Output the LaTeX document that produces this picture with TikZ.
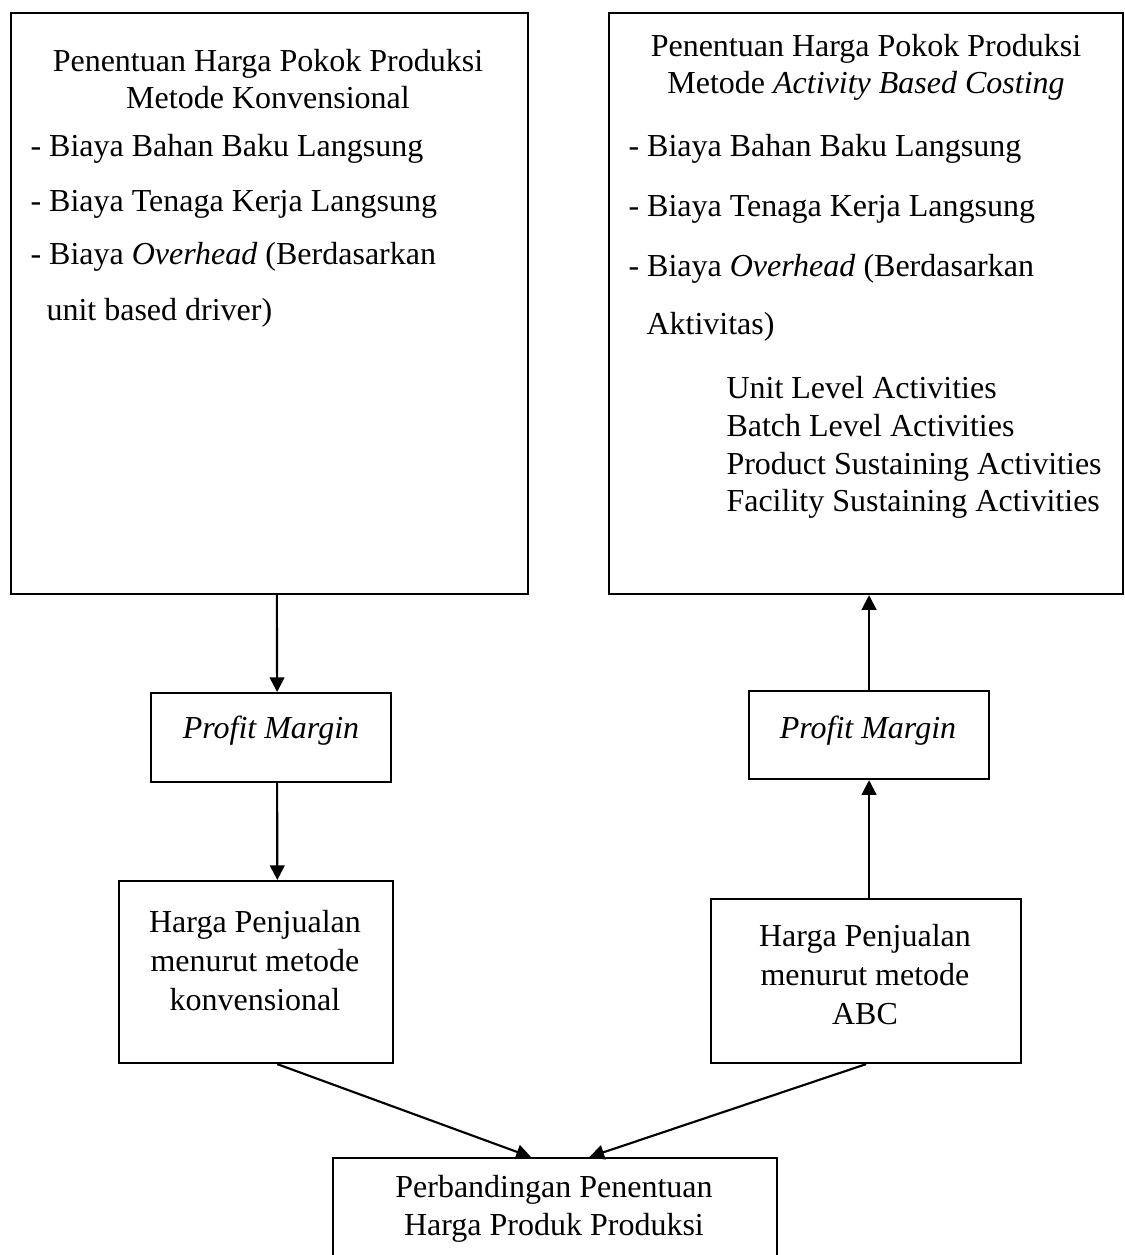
\documentclass[tikz,border=0pt]{standalone}
\usepackage{fontspec}
\setmainfont{Liberation Serif}
\usetikzlibrary{arrows.meta,calc}
\begin{document}
\begin{tikzpicture}[x=0.375pt,y=-0.375pt,
  box/.style={draw,line width=0.8pt,inner sep=0pt,anchor=north west},
  txt/.style={font=\fontsize{12pt}{14pt}\selectfont,inner sep=0pt,anchor=base},
  lst/.style={txt,anchor=base west},
  flow/.style={line width=0.8pt,-{Triangle[length=5.5pt,width=5.5pt]}}]
\useasboundingbox (0,0) rectangle (1124,1255);

% boxes
\node[box,minimum width=193.875pt,minimum height=217.875pt] (L1) at (10,12) {};
\node[box,minimum width=192.75pt,minimum height=217.875pt] (R1) at (608,12) {};
\node[box,minimum width=90pt,minimum height=33.375pt] (pmL) at (150,692) {};
\node[box,minimum width=90pt,minimum height=33pt] (pmR) at (748,690) {};
\node[box,minimum width=102.75pt,minimum height=68.25pt] (hL) at (118,880) {};
\node[box,minimum width=116.25pt,minimum height=61.5pt] (hR) at (710,898) {};
\node[box,minimum width=166.5pt,minimum height=37.875pt] (bot) at (332,1157) {};

% conventional costing box
\node[txt] (l1t1) at (268,71) {Penentuan Harga Pokok Produksi};
\node[txt] (l1t2) at (268,108) {Metode Konvensional};
\node[lst] (l1a) at (30,156) {- Biaya Bahan Baku Langsung};
\node[lst] (l1b) at (30,211) {- Biaya Tenaga Kerja Langsung};
\node[lst] (l1c) at (30,264) {- Biaya \textit{Overhead} (Berdasarkan};
\node[lst] (l1d) at (46,320) {unit based driver)};

% activity based costing box
\node[txt] (r1t1) at (866,56) {Penentuan Harga Pokok Produksi};
\node[txt] (r1t2) at (866,93) {Metode \textit{Activity Based Costing}};
\node[lst] (r1a) at (628,156) {- Biaya Bahan Baku Langsung};
\node[lst] (r1b) at (628,216) {- Biaya Tenaga Kerja Langsung};
\node[lst] (r1c) at (628,276) {- Biaya \textit{Overhead} (Berdasarkan};
\node[lst] (r1d) at (646,334) {Aktivitas)};
\node[lst] (r1e) at (726,398) {Unit Level Activities};
\node[lst] (r1f) at (726,436) {Batch Level Activities};
\node[lst] (r1g) at (726,474) {Product Sustaining Activities};
\node[lst] (r1h) at (726,511) {Facility Sustaining Activities};

% profit margin boxes
\node[txt] (pmLt) at (271,738) {\textit{Profit Margin}};
\node[txt] (pmRt) at (868,738) {\textit{Profit Margin}};

% selling price boxes
\node[txt] (hL1) at (255,932) {Harga Penjualan};
\node[txt] (hL2) at (255,971) {menurut metode};
\node[txt] (hL3) at (255,1010) {konvensional};
\node[txt] (hR1) at (865,946) {Harga Penjualan};
\node[txt] (hR2) at (865,985) {menurut metode};
\node[txt] (hR3) at (865,1024) {ABC};

% comparison box
\node[txt] (b1) at (554,1197) {Perbandingan Penentuan};
\node[txt] (b2) at (554,1235) {Harga Produk Produksi};

% connectors
\draw[flow] ($(L1.south west)!0.514!(L1.south east)$) -- ($(pmL.north west)!0.525!(pmL.north east)$);
\draw[flow] ($(pmL.south west)!0.525!(pmL.south east)$) -- ($(hL.north west)!0.577!(hL.north east)$);
\draw[flow] (pmR.north) -- (pmR.north |- R1.south);
\draw[flow] (pmR.south |- hR.north) -- (pmR.south);
\draw[flow] ($(hL.south west)!0.577!(hL.south east)$) -- ($(bot.north west)!0.446!(bot.north east)$);
\draw[flow] (hR.south) -- ($(bot.north west)!0.577!(bot.north east)$);
\end{tikzpicture}
\end{document}
